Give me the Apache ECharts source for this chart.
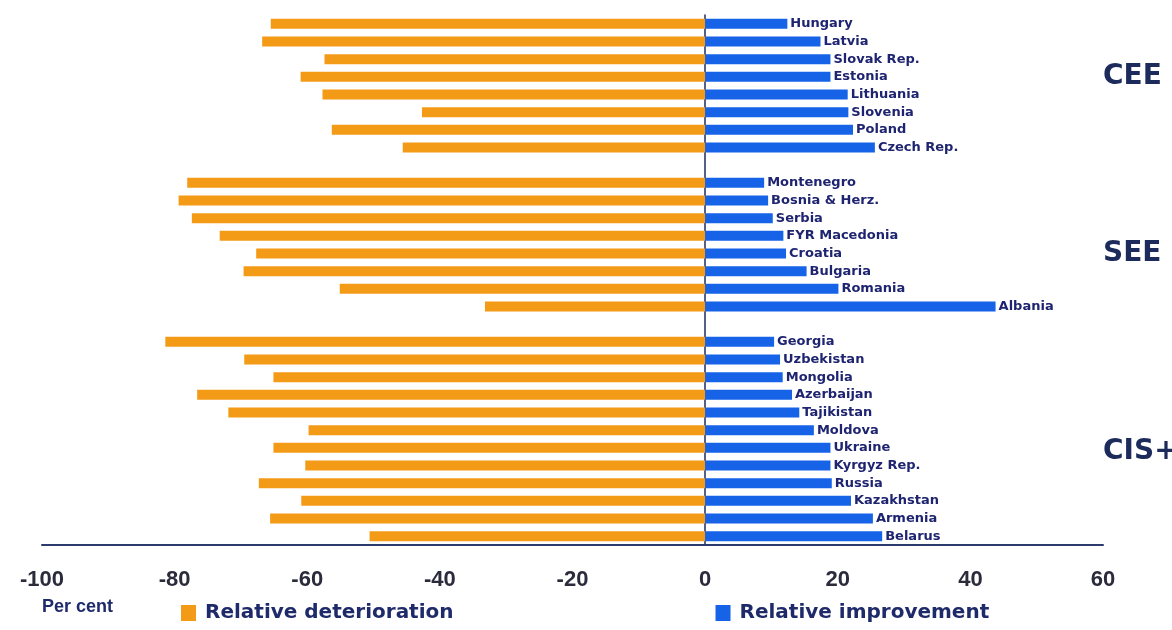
<!DOCTYPE html>
<html>
<head>
<meta charset="utf-8">
<script src="https://cdn.jsdelivr.net/npm/echarts@6/dist/echarts.min.js"></script>
<style>
html,body{margin:0;padding:0;background:#fff;}
#chart{width:1172px;height:630px;}
</style>
</head>
<body>
<div id="chart"></div>
<script>
var categories = ['Hungary','Latvia','Slovak Rep.','Estonia','Lithuania','Slovenia','Poland','Czech Rep.',' ',
  'Montenegro','Bosnia & Herz.','Serbia','FYR Macedonia','Croatia','Bulgaria','Romania','Albania','  ',
  'Georgia','Uzbekistan','Mongolia','Azerbaijan','Tajikistan','Moldova','Ukraine','Kyrgyz Rep.','Russia','Kazakhstan','Armenia','Belarus'];
var deterioration = [-65.5,-66.8,-57.4,-61.0,-57.7,-42.7,-56.3,-45.6,'-',
  -78.1,-79.4,-77.4,-73.2,-67.7,-69.6,-55.1,-33.2,'-',
  -81.4,-69.5,-65.1,-76.6,-71.9,-59.8,-65.1,-60.3,-67.3,-60.9,-65.6,-50.6];
var improvement = [12.4,17.4,18.9,18.9,21.5,21.6,22.3,25.6,'-',
  8.9,9.5,10.2,11.8,12.2,15.3,20.1,43.8,'-',
  10.4,11.3,11.7,13.1,14.2,16.4,18.9,18.9,19.1,22.0,25.3,26.7];
var xTicks = {min:-100, max:60, interval:20};
var groupLabels = ['CEE','SEE','CIS+M'];

var navy = '#1e2a6a';
var wide = 'DejaVu Sans, Verdana, sans-serif';
var chart = echarts.init(document.getElementById('chart'));
chart.setOption({
  animation:false,
  backgroundColor:'#ffffff',
  grid:{left:42,right:69,top:15,bottom:85,containLabel:false},
  legend:{
    data:['Relative deterioration','Relative improvement'],
    left:181, top:603, padding:0, icon:'rect', itemWidth:15, itemHeight:16, itemGap:262,
    textStyle:{fontFamily:wide,fontWeight:'bold',fontSize:20,color:navy,padding:[0,0,0,4]}
  },
  xAxis:{
    type:'value', min:xTicks.min, max:xTicks.max, interval:xTicks.interval,
    splitLine:{show:false}, axisTick:{show:false},
    axisLine:{show:true,lineStyle:{color:'#2c3a6e',width:2}},
    axisLabel:{margin:24,fontFamily:'Liberation Sans, Arial, sans-serif',fontWeight:'bold',fontSize:22,color:'#2b2b3b'}
  },
  yAxis:{
    type:'category', data:categories, inverse:true,
    axisLine:{show:true,onZero:true,lineStyle:{color:'#1e2a5e',width:1.5}},
    axisTick:{show:false}, axisLabel:{show:false}, splitLine:{show:false}
  },
  graphic:[
    {type:'text',left:42,top:598,style:{text:'Per cent',font:'bold 18px Liberation Sans, Arial, sans-serif',fill:navy}},
    {type:'text',left:1103,top:63,style:{text:groupLabels[0],font:'bold 28px DejaVu Sans, Verdana, sans-serif',fill:'#1c2a5c'}},
    {type:'text',left:1103,top:240,style:{text:groupLabels[1],font:'bold 28px DejaVu Sans, Verdana, sans-serif',fill:'#1c2a5c'}},
    {type:'text',left:1103,top:438,style:{text:groupLabels[2],font:'bold 28px DejaVu Sans, Verdana, sans-serif',fill:'#1c2a5c'}}
  ],
  series:[
    {name:'Relative deterioration',type:'bar',data:deterioration,barWidth:10,barGap:'-100%',
      itemStyle:{color:'#f39a17'}},
    {name:'Relative improvement',type:'bar',data:improvement,barWidth:10,barGap:'-100%',
      itemStyle:{color:'#1763e8'},
      label:{show:true,position:'right',distance:3,formatter:function(p){return p.name;},
        fontFamily:wide,fontWeight:'bold',fontSize:13,color:'#1e2470'}}
  ]
});
</script>
</body>
</html>
